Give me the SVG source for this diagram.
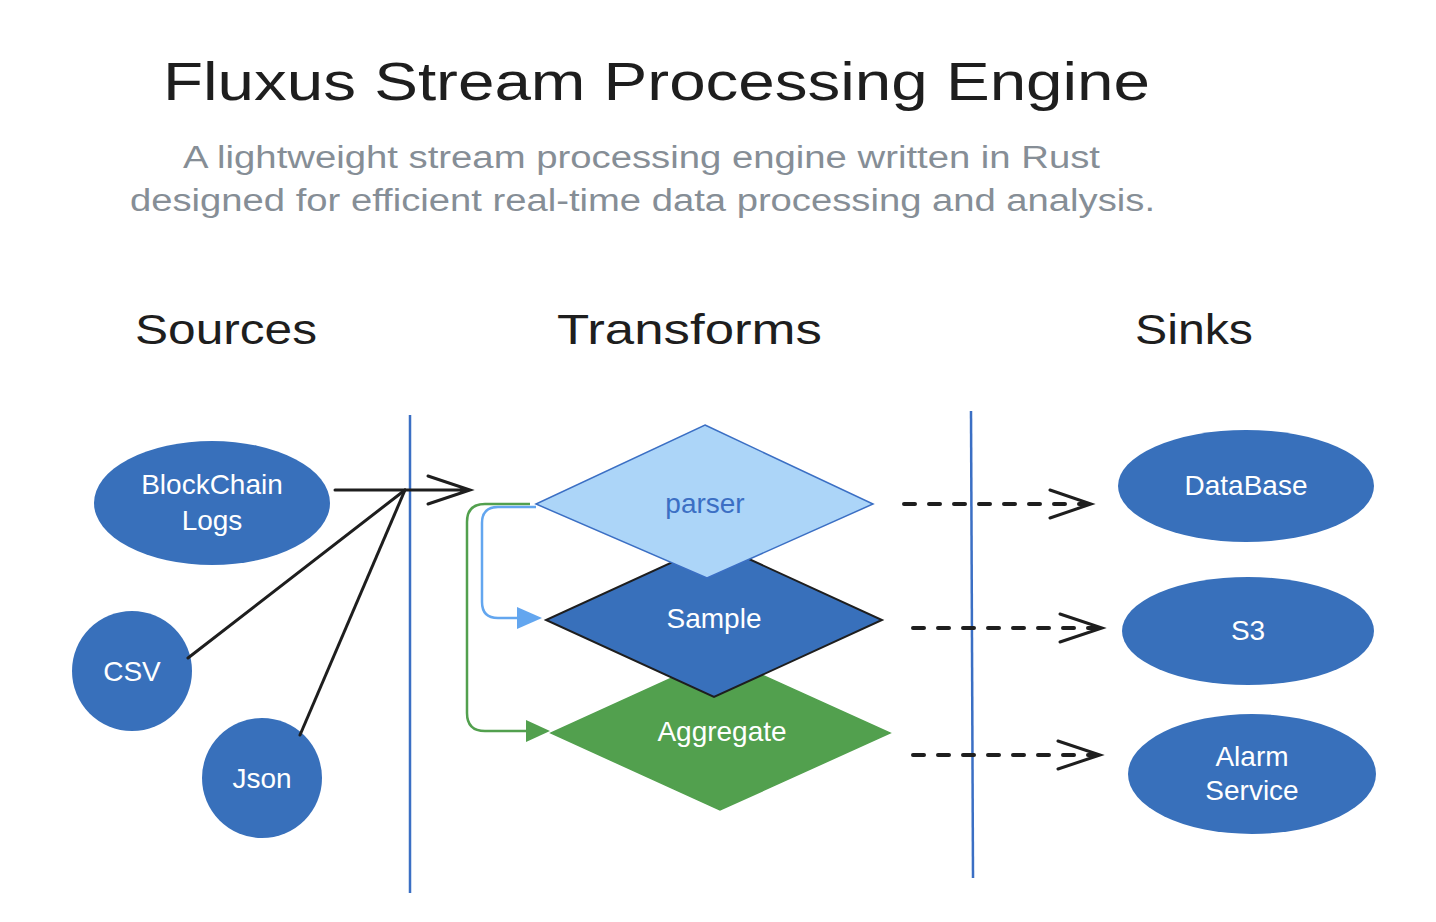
<svg xmlns="http://www.w3.org/2000/svg" width="1436" height="922" viewBox="0 0 1436 922">
<style>
text{font-family:"Liberation Sans",Arial,sans-serif}
.title{font-size:54px;fill:#1e1e1e}
.sub{font-size:31px;fill:#868e96}
.head{font-size:42px;fill:#1e1e1e}
.lbl{font-size:28px;fill:#fff;text-anchor:middle}
.node{fill:#3870bb}
.lane{stroke:#3b6fc4;stroke-width:2.5;fill:none}
.conn{stroke:#1e1e1e;stroke-width:3;fill:none;stroke-linecap:round}
.dash{stroke:#1e1e1e;stroke-width:4;fill:none;stroke-dasharray:11 14;stroke-linecap:round}
</style>
<rect width="1436" height="922" fill="#fff"/>
<g id="titles">
<text class="title" x="163" y="100" textLength="987" lengthAdjust="spacingAndGlyphs">Fluxus Stream Processing Engine</text>
<text class="sub" x="183" y="168" textLength="917" lengthAdjust="spacingAndGlyphs">A lightweight stream processing engine written in Rust</text>
<text class="sub" x="130" y="211" textLength="1025" lengthAdjust="spacingAndGlyphs">designed for efficient real-time data processing and analysis.</text>
<text class="head" x="135" y="344" textLength="182" lengthAdjust="spacingAndGlyphs">Sources</text>
<text class="head" x="557" y="344" textLength="265" lengthAdjust="spacingAndGlyphs">Transforms</text>
<text class="head" x="1135" y="344" textLength="118" lengthAdjust="spacingAndGlyphs">Sinks</text>
</g>
<g id="lanes">
<line class="lane" x1="410" y1="415" x2="410" y2="893"/>
<line class="lane" x1="971" y1="411" x2="973" y2="878"/>
</g>
<g id="blockchain"><ellipse class="node" cx="212" cy="503" rx="118" ry="62"/><text class="lbl" x="212" y="494">BlockChain</text><text class="lbl" x="212" y="530">Logs</text></g>
<g id="csv"><circle class="node" cx="132" cy="671" r="60"/><text class="lbl" x="132" y="681">CSV</text></g>
<g id="json"><circle class="node" cx="262" cy="778" r="60"/><text class="lbl" x="262" y="788">Json</text></g>
<g id="aggregate"><polygon points="720,656 890,733 720,810 551,733" fill="#52a04e" stroke="#52a04e" stroke-width="1.5"/><text class="lbl" x="722" y="741">Aggregate</text></g>
<g id="sample"><polygon points="714,543 882,620 714,697 546,620" fill="#3870bb" stroke="#1e1e1e" stroke-width="2"/><text class="lbl" x="714" y="628">Sample</text></g>
<g id="parser"><polygon points="705,425 873,504 707,578 536,504" fill="#acd5f8" stroke="#3b6fc4" stroke-width="1.5"/><text class="lbl" x="705" y="513" style="fill:#3b6fc4">parser</text></g>
<g id="database"><ellipse class="node" cx="1246" cy="486" rx="128" ry="56"/><text class="lbl" x="1246" y="495">DataBase</text></g>
<g id="s3"><ellipse class="node" cx="1248" cy="631" rx="126" ry="54"/><text class="lbl" x="1248" y="640">S3</text></g>
<g id="alarm"><ellipse class="node" cx="1252" cy="774" rx="124" ry="60"/><text class="lbl" x="1252" y="766">Alarm</text><text class="lbl" x="1252" y="800">Service</text></g>
<g id="connectors">
<path class="conn" d="M335,490 L470,490 M428,476 L470,490 L428,504"/>
<path class="conn" d="M188,658 L405,490"/>
<path class="conn" d="M300,735 L405,490"/>
<path d="M530,504 L485,504 Q467,504 467,522 L467,713 Q467,731 485,731 L528,731" fill="none" stroke="#52a04e" stroke-width="2.5"/>
<polygon points="526,720 550,731 526,742" fill="#52a04e"/>
<path d="M536,507 L498,507 Q482,507 482,523 L482,602 Q482,618 498,618 L520,618" fill="none" stroke="#63a6ef" stroke-width="2.5"/>
<polygon points="517,607 542,618 517,629" fill="#63a6ef"/>
<path class="dash" d="M904,504 L1088,504"/>
<path class="conn" d="M1050,490 L1091,504 L1050,518"/>
<path class="dash" d="M913,628 L1098,628"/>
<path class="conn" d="M1060,614 L1102,628 L1060,642"/>
<path class="dash" d="M913,755 L1096,755"/>
<path class="conn" d="M1058,741 L1100,755 L1058,769"/>
</g>
</svg>
